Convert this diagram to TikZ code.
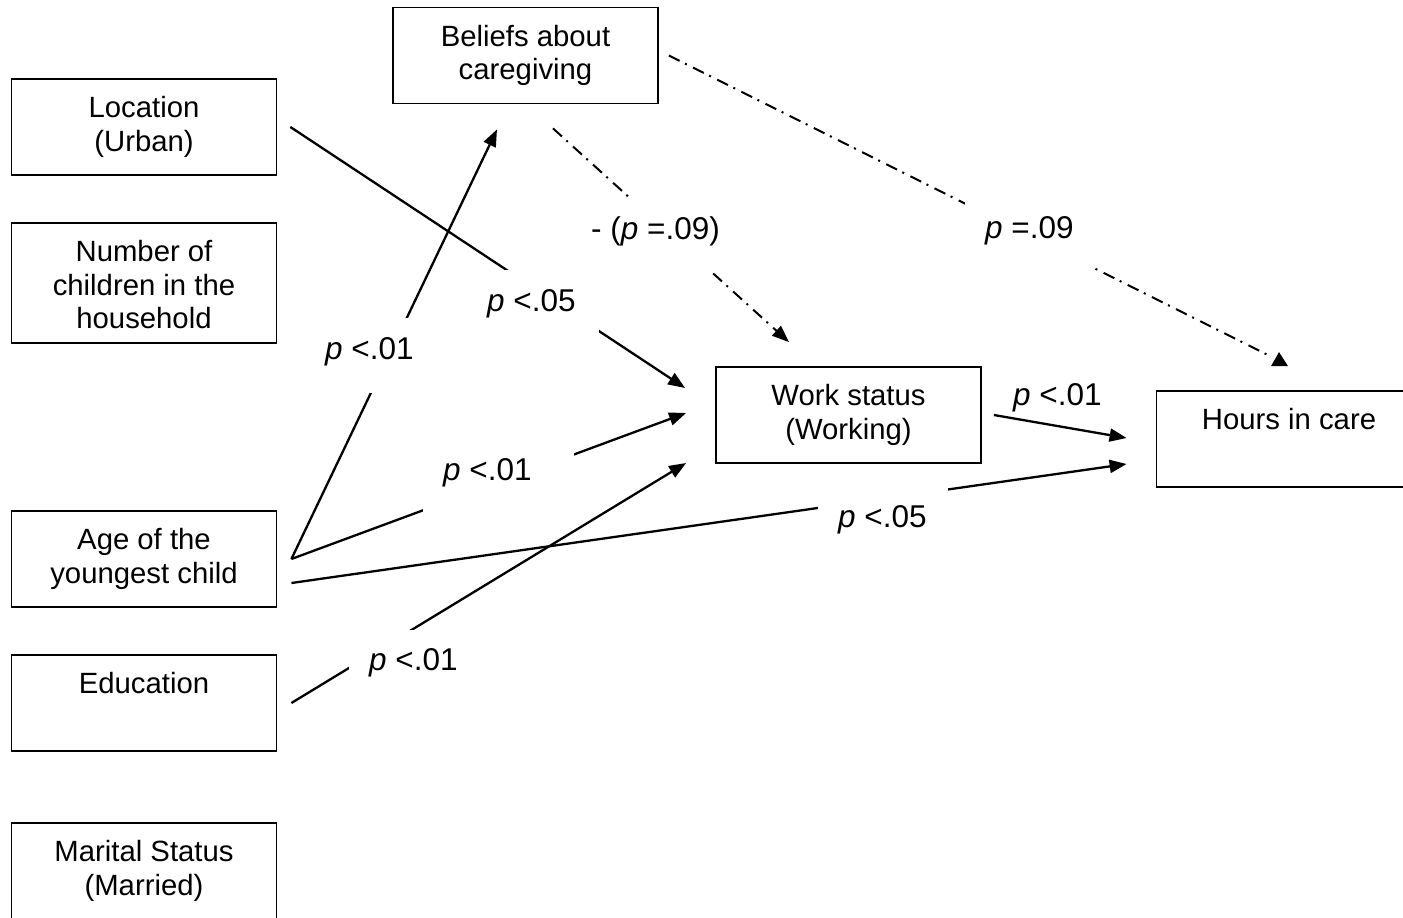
\documentclass[tikz,border=0pt]{standalone}
\usepackage{fontspec}
\setmainfont{Liberation Sans}
\usetikzlibrary{arrows.meta,calc}
\begin{document}
\begin{tikzpicture}[x=1pt,y=-1pt,
  box/.style={draw, line width=1.8pt, minimum width=265pt, minimum height=96pt, inner sep=0pt},
  boxtext/.style={anchor=north, align=center, inner sep=0pt, font=\fontsize{29.3}{33.5}\selectfont},
  link/.style={line width=2.3pt, -{Triangle[length=17pt,width=13pt]}},
  dashlink/.style={line width=2pt, dash pattern=on 12pt off 6pt on 2pt off 7pt},
  plabel/.style={anchor=base west, inner sep=0pt, text height=41pt, text depth=34pt, fill=white, font=\fontsize{31.5}{36}\selectfont},
  pfree/.style={anchor=base west, inner sep=0pt, font=\fontsize{31.5}{36}\selectfont},
]
\path[use as bounding box] (0,0) rectangle (1403,918);
\clip (0,0) rectangle (1403,918);

% boxes
\node[box] (loc) at (144,127) {};
\node[box, minimum height=120pt] (num) at (144,283) {};
\node[box] (age) at (144,559) {};
\node[box] (edu) at (144,703) {};
\node[box] (mar) at (144,871) {};
\node[box] (bel) at (525.5,55.5) {};
\node[box] (work) at (848.5,415) {};
\node[box] (hours) at (1289,439) {};

% box texts, set at the top of each box
\node[boxtext] (loct) at ($(loc.north)+(0,18)$) {Location\\(Urban)};
\node[boxtext] (numt) at ($(num.north)+(0,18)$) {Number of\\children in the\\household};
\node[boxtext] (aget) at ($(age.north)+(0,18)$) {Age of the\\youngest child};
\node[boxtext] (edut) at ($(edu.north)+(0,18)$) {Education};
\node[boxtext] (mart) at ($(mar.north)+(0,18)$) {Marital Status\\(Married)};
\node[boxtext] (belt) at ($(bel.north)+(0,18)$) {Beliefs about\\caregiving};
\node[boxtext] (workt) at ($(work.north)+(0,18)$) {Work status\\(Working)};
\node[boxtext] (hourst) at ($(hours.north)+(0,18)$) {Hours in care};

% connector end points
\coordinate (s1) at ($(loc.east)+(13,0)$);
\coordinate (e1) at ($(work.west)+(-30,-27)$);
\coordinate (s2) at ($(age.east)+(14,0)$);
\coordinate (e2) at ($(bel.south)+(-28.5,25)$);
\coordinate (e3) at ($(work.west)+(-29,-2)$);
\coordinate (s4) at ($(age.east)+(14,24)$);
\coordinate (e4) at ($(hours.west)+(-29,25)$);
\coordinate (s5) at ($(edu.east)+(14,0)$);
\coordinate (e5) at ($(work.west)+(-29,48)$);
\coordinate (s6) at ($(work.east)+(12,0)$);
\coordinate (e6) at ($(hours.west)+(-29,-1)$);
\coordinate (s7) at ($(bel.south)+(27.5,24)$);
\coordinate (e7) at ($(work.north)+(-59.5,-24)$);
\coordinate (s8) at ($(bel.east)+(10,0)$);
\coordinate (e8) at ($(hours.north)+(-21,-35)$);

% solid paths
\draw[link] (s1) -- (e1);
\draw[link] (s2) -- (e2);
\draw[link] (s2) -- (e3);
\draw[link] (s4) -- (e4);
\draw[link] (s5) -- (e5);
\draw[link] (s6) -- (e6);

% dash-dot paths from the beliefs box
\draw[dashlink, -{Triangle[length=17pt,width=13pt]}] (s7) -- (e7);
\draw[dashlink] (s8) -- (e8);
\fill ($(hours.north)+(-10,-38)$) -- ($(hours.north)+(-18,-24)$) -- ($(hours.north)+(-1,-24)$) -- cycle;

% coefficient labels
\node[plabel] (l1) at (467,311) {\hspace*{20pt}\textit{p} <.05\hspace*{23pt}};
\node[plabel] (l2) at (305,359) {\hspace*{20pt}\textit{p} <.01\hspace*{20pt}};
\node[plabel] (l3) at (423,480) {\hspace*{20pt}\textit{p} <.01\hspace*{42pt}};
\node[plabel] (l4) at (818,527) {\hspace*{20pt}\textit{p} <.05\hspace*{21pt}};
\node[plabel] (l5) at (349,670.5) {\hspace*{20pt}\textit{p} <.01\hspace*{20pt}};
\node[pfree] (l6) at (1013,405) {\textit{p} <.01};
\node[plabel] (l7) at (571,239) {\hspace*{20pt}- (\textit{p} =.09)\hspace*{20pt}};
\node[plabel] (l8) at (965,238) {\hspace*{20pt}\textit{p} =.09\hspace*{20pt}};
\end{tikzpicture}
\end{document}
